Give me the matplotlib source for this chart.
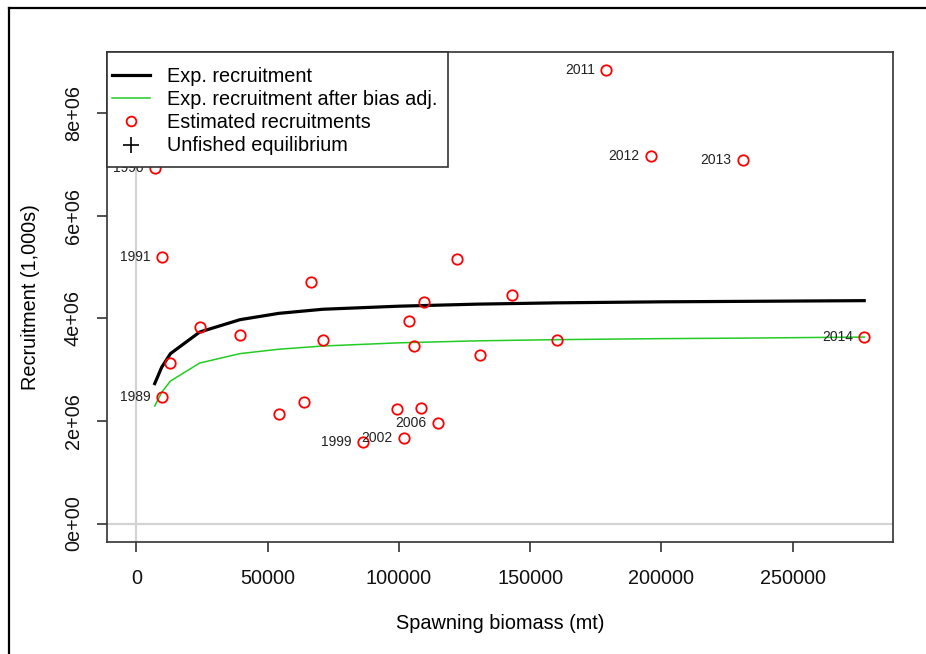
import numpy as np
import matplotlib
matplotlib.use("Agg")
from matplotlib import pyplot as plt
from matplotlib.lines import Line2D
from matplotlib.patches import Rectangle

plt.rcParams['font.family'] = ['Liberation Sans', 'DejaVu Sans']

# estimated recruitments by year
years = [1989, 1990, 1991, 1992, 1993, 1994, 1995, 1996, 1997, 1998, 1999, 2000, 2001,
         2002, 2003, 2004, 2005, 2006, 2007, 2008, 2009, 2010, 2011, 2012, 2013, 2014]
spawn_bio = [9640, 6975, 9756, 12960, 24120, 39480, 54230, 63760, 66540, 71000, 86240,
             99200, 104040, 101980, 105800, 108350, 109760, 114830, 122330, 131100,
             143290, 160060, 178850, 196000, 230950, 277290]
recruits = [2.468e6, 6.933e6, 5.206e6, 3.131e6, 3.841e6, 3.685e6, 2.137e6, 2.371e6,
            4.705e6, 3.580e6, 1.599e6, 2.242e6, 3.950e6, 1.669e6, 3.463e6, 2.254e6,
            4.328e6, 1.961e6, 5.159e6, 3.295e6, 4.465e6, 3.574e6, 8.844e6, 7.167e6,
            7.097e6, 3.638e6]
labelled_years = [1989, 1990, 1991, 1999, 2002, 2006, 2011, 2012, 2013, 2014]

# expected recruitment curves
curve_bio = [6975, 9640, 12960, 24120, 39480, 54230, 71000, 100000, 130000, 160000,
             200000, 230950, 277290]
exp_rec = [2.730e6, 3.05e6, 3.314e6, 3.736e6, 3.977e6, 4.10e6, 4.18e6, 4.24e6, 4.28e6,
           4.305e6, 4.325e6, 4.334e6, 4.348e6]
exp_rec_adj = [2.293e6, 2.56e6, 2.780e6, 3.131e6, 3.315e6, 3.40e6, 3.463e6, 3.525e6,
               3.564e6, 3.587e6, 3.607e6, 3.617e6, 3.638e6]

xticks = [0, 50000, 100000, 150000, 200000, 250000]
yticks = [0, 2e6, 4e6, 6e6, 8e6]
ytick_labels = ["0e+00", "2e+06", "4e+06", "6e+06", "8e+06"]

W, H = 926, 654
fig = plt.figure(figsize=(W / 100, H / 100), dpi=100)
ax_px = (107.3, 52, 893.3, 541.7)  # left, top, right, bottom in pixels
ax = fig.add_axes([ax_px[0] / W, (H - ax_px[3]) / H, (ax_px[2] - ax_px[0]) / W,
                   (ax_px[3] - ax_px[1]) / H])

axis_col = "#333333"
fs = 14.3

ax.axvline(0, color="#d3d3d3", lw=1.6, zorder=1)
ax.axhline(0, color="#d3d3d3", lw=1.6, zorder=1)

ax.plot(curve_bio, exp_rec, color="black", lw=2.3, zorder=2)
ax.plot(curve_bio, exp_rec_adj, color="#22cc22", lw=1.1, zorder=2)
ax.plot(spawn_bio, recruits, ls="none", marker="o", ms=7.5, mfc="none", mec="red",
        mew=1.3, zorder=3)

for yr, x, y in zip(years, spawn_bio, recruits):
    if yr in labelled_years:
        ax.annotate(str(yr), (x, y), xytext=(-8, 0), textcoords="offset points",
                    ha="right", va="center", fontsize=10, color="#222222", zorder=3)

xmax = max(spawn_bio)
ymax = max(recruits)
ax.set_xlim(-0.04 * xmax, 1.04 * xmax)
ax.set_ylim(-0.04 * ymax, 1.04 * ymax)

ax.set_xticks(xticks)
ax.set_xticklabels([str(t) for t in xticks])
ax.set_yticks(yticks)
ax.set_yticklabels(ytick_labels, rotation=90, va="center")
ax.tick_params(length=7.5, width=1.2, color=axis_col, labelsize=fs,
               labelcolor="#111111")
ax.tick_params(axis="x", pad=12)
ax.tick_params(axis="y", pad=10)
for sp in ax.spines.values():
    sp.set_color(axis_col)
    sp.set_linewidth(1.2)

ax.set_xlabel("Spawning biomass (mt)", fontsize=fs, labelpad=19)
ax.set_ylabel("Recruitment (1,000s)", fontsize=fs, labelpad=17)

# legend box, drawn separately so the padding can differ per side
ax_w = ax_px[2] - ax_px[0]
ax_h = ax_px[3] - ax_px[1]
box_w = (448 - ax_px[0]) / ax_w
box_h = (167 - ax_px[1]) / ax_h
ax.add_patch(Rectangle((0, 1 - box_h), box_w, box_h, transform=ax.transAxes,
                       facecolor="white", edgecolor=axis_col, lw=1.2, zorder=4,
                       clip_on=False))

handles = [
    Line2D([], [], color="black", lw=2.3),
    Line2D([], [], color="#22cc22", lw=1.1),
    Line2D([], [], ls="none", marker="o", ms=7, mfc="none", mec="red", mew=1.3),
    Line2D([], [], ls="none", marker="+", ms=12, color="black", mew=1.2),
]
names = ["Exp. recruitment", "Exp. recruitment after bias adj.",
         "Estimated recruitments", "Unfished equilibrium"]
leg = ax.legend(handles, names, loc="upper left",
                bbox_to_anchor=(0, 1 - 10 / ax_h), borderaxespad=0, fontsize=fs,
                frameon=False, handlelength=1.88, handletextpad=0.88,
                borderpad=0.25, labelspacing=0.21)
leg.set_zorder(5)

# outer frame on the left and top of the figure
fig.add_artist(Line2D([9 / W, 9 / W], [0, 1 - 7.5 / H], color="black", lw=1.6,
                      transform=fig.transFigure))
fig.add_artist(Line2D([9 / W, 1], [1 - 7.5 / H, 1 - 7.5 / H], color="black", lw=1.6,
                      transform=fig.transFigure))

fig.savefig("out.png", dpi=100)
